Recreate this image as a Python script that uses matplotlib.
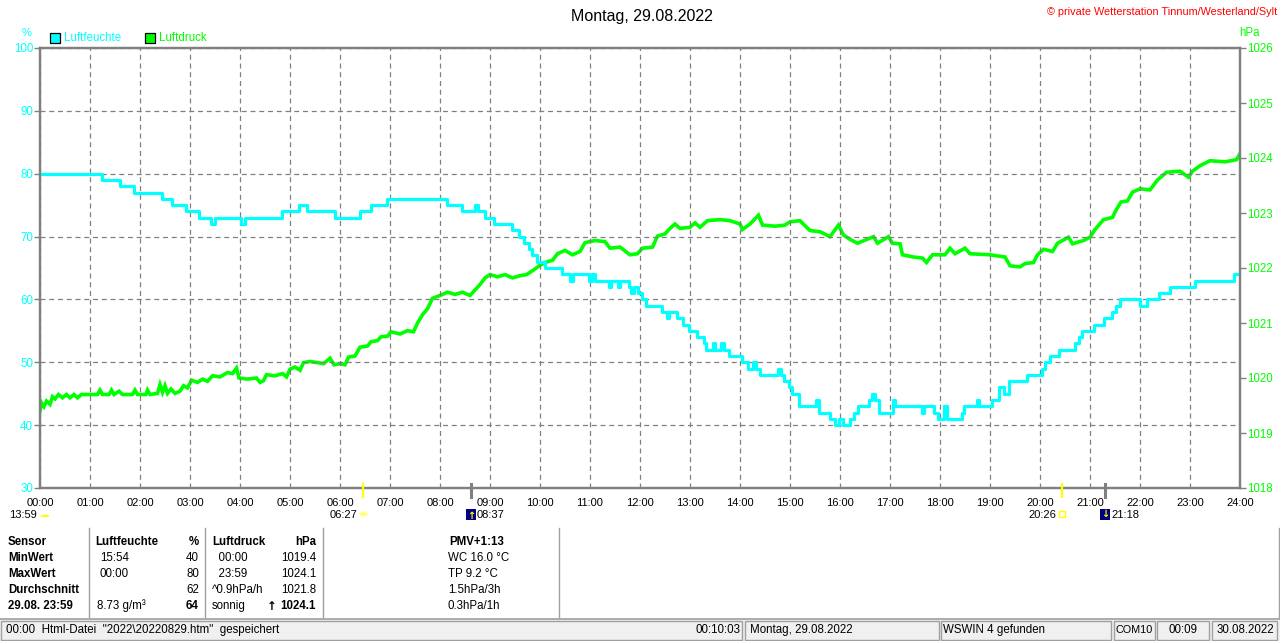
import matplotlib
matplotlib.use("Agg")
import matplotlib.pyplot as plt
import matplotlib.transforms as mtransforms
from matplotlib.patches import Rectangle, Circle, Wedge

# ---- data ----
hours = list(range(25))
hour_labels = [f"{h:02d}:00" for h in hours]

hum_ticks = [30, 40, 50, 60, 70, 80, 90, 100]
pres_ticks = [1018, 1019, 1020, 1021, 1022, 1023, 1024, 1025, 1026]

# humidity (%), steps starting at the given hour
hum_t = [0.00, 1.23, 1.59, 1.87, 2.43, 2.63, 2.92, 3.17, 3.42, 3.50,
         4.02, 4.10, 4.83, 5.17, 5.33, 5.90, 6.39, 6.61, 6.93, 8.13,
         8.43, 8.70, 8.76, 8.90, 9.07, 9.43, 9.57, 9.67, 9.77, 9.83,
         9.93, 10.10, 10.43, 10.60, 10.66, 10.97, 11.03, 11.10, 11.38, 11.42,
         11.55, 11.59, 11.77, 11.82, 11.88, 11.95, 12.03, 12.12, 12.43, 12.53,
         12.58, 12.73, 12.85, 12.97, 13.13, 13.27, 13.32, 13.45, 13.50, 13.62,
         13.67, 13.77, 14.03, 14.15, 14.25, 14.32, 14.40, 14.75, 14.82, 14.87,
         14.97, 15.03, 15.17, 15.52, 15.57, 15.80, 15.90, 15.97, 16.05, 16.20,
         16.28, 16.35, 16.57, 16.64, 16.70, 16.77, 17.05, 17.10, 17.63, 17.68,
         17.87, 17.95, 18.07, 18.13, 18.43, 18.48, 18.73, 18.77, 19.03, 19.17,
         19.27, 19.37, 19.73, 20.03, 20.10, 20.20, 20.37, 20.70, 20.77, 20.83,
         21.07, 21.27, 21.43, 21.52, 21.60, 22.00, 22.13, 22.37, 22.60, 23.10,
         23.87, 24.00]
hum_v = [80, 79, 78, 77, 76, 75, 74, 73, 72, 73,
         72, 73, 74, 75, 74, 73, 74, 75, 76, 75,
         74, 75, 74, 73, 72, 71, 70, 69, 68, 67,
         66, 65, 64, 63, 64, 63, 64, 63, 62, 63,
         62, 63, 62, 61, 62, 61, 60, 59, 58, 57,
         58, 57, 56, 55, 54, 53, 52, 53, 52, 53,
         52, 51, 50, 49, 50, 49, 48, 49, 48, 47,
         46, 45, 43, 44, 42, 41, 40, 41, 40, 41,
         42, 43, 44, 45, 44, 42, 44, 43, 42, 43,
         42, 41, 43, 41, 42, 43, 44, 43, 44, 46,
         45, 47, 48, 49, 50, 51, 52, 53, 54, 55,
         56, 57, 58, 59, 60, 59, 60, 61, 62, 63,
         64, 64]

# air pressure (hPa)
pres_t = [0.00, 0.03, 0.08, 0.13, 0.20, 0.25, 0.30, 0.37, 0.45, 0.53,
          0.60, 0.68, 0.75, 0.83, 1.15, 1.20, 1.25, 1.38, 1.43, 1.48,
          1.58, 1.65, 1.85, 1.90, 1.95, 2.12, 2.15, 2.20, 2.35, 2.40,
          2.45, 2.50, 2.55, 2.62, 2.70, 2.80, 2.87, 2.95, 3.03, 3.15,
          3.25, 3.35, 3.45, 3.60, 3.75, 3.85, 3.93, 3.98, 4.15, 4.33,
          4.40, 4.47, 4.53, 4.70, 4.85, 4.93, 5.00, 5.10, 5.20, 5.27,
          5.40, 5.55, 5.67, 5.80, 5.88, 6.00, 6.10, 6.17, 6.30, 6.40,
          6.55, 6.62, 6.75, 6.82, 6.95, 7.02, 7.20, 7.35, 7.47, 7.55,
          7.65, 7.75, 7.85, 8.00, 8.15, 8.30, 8.45, 8.60, 8.70, 8.80,
          8.90, 9.00, 9.15, 9.30, 9.45, 9.60, 9.73, 9.85, 10.00, 10.10,
          10.25, 10.35, 10.50, 10.65, 10.80, 10.90, 11.10, 11.30, 11.40, 11.60,
          11.80, 11.95, 12.05, 12.25, 12.35, 12.50, 12.60, 12.70, 12.80, 13.00,
          13.10, 13.20, 13.35, 13.60, 13.80, 14.00, 14.05, 14.20, 14.37, 14.45,
          14.70, 14.90, 15.00, 15.20, 15.40, 15.60, 15.80, 15.97, 16.07, 16.20,
          16.35, 16.67, 16.75, 16.97, 17.05, 17.20, 17.25, 17.47, 17.65, 17.73,
          17.85, 18.10, 18.20, 18.30, 18.50, 18.60, 19.00, 19.30, 19.40, 19.60,
          19.70, 19.87, 19.95, 20.07, 20.25, 20.35, 20.57, 20.65, 20.87, 21.00,
          21.10, 21.27, 21.45, 21.52, 21.62, 21.75, 21.85, 22.00, 22.20, 22.35,
          22.53, 22.80, 22.97, 23.05, 23.20, 23.40, 23.70, 23.93, 24.00]
pres_v = [1019.40, 1019.55, 1019.48, 1019.58, 1019.52, 1019.66, 1019.62, 1019.70, 1019.64, 1019.70,
          1019.64, 1019.70, 1019.64, 1019.70, 1019.70, 1019.78, 1019.70, 1019.70, 1019.78, 1019.70,
          1019.76, 1019.70, 1019.70, 1019.78, 1019.70, 1019.70, 1019.78, 1019.70, 1019.72, 1019.88,
          1019.74, 1019.86, 1019.72, 1019.80, 1019.72, 1019.76, 1019.86, 1019.82, 1019.96, 1019.92,
          1019.98, 1019.94, 1020.04, 1020.02, 1020.10, 1020.08, 1020.18, 1020.00, 1019.98, 1020.00,
          1019.92, 1019.95, 1020.06, 1020.04, 1020.08, 1020.02, 1020.16, 1020.20, 1020.14, 1020.28,
          1020.30, 1020.28, 1020.26, 1020.36, 1020.24, 1020.26, 1020.24, 1020.38, 1020.40, 1020.56,
          1020.58, 1020.66, 1020.68, 1020.75, 1020.76, 1020.84, 1020.80, 1020.86, 1020.84, 1021.00,
          1021.15, 1021.26, 1021.45, 1021.50, 1021.56, 1021.52, 1021.56, 1021.50, 1021.60, 1021.70,
          1021.82, 1021.88, 1021.84, 1021.88, 1021.82, 1021.86, 1021.88, 1021.95, 1022.05, 1022.10,
          1022.14, 1022.26, 1022.32, 1022.24, 1022.30, 1022.46, 1022.50, 1022.48, 1022.36, 1022.38,
          1022.24, 1022.26, 1022.36, 1022.38, 1022.58, 1022.62, 1022.72, 1022.80, 1022.72, 1022.74,
          1022.82, 1022.74, 1022.86, 1022.88, 1022.86, 1022.80, 1022.70, 1022.80, 1022.96, 1022.78,
          1022.76, 1022.78, 1022.84, 1022.86, 1022.68, 1022.66, 1022.57, 1022.78, 1022.60, 1022.52,
          1022.45, 1022.57, 1022.45, 1022.57, 1022.45, 1022.44, 1022.24, 1022.20, 1022.18, 1022.10,
          1022.24, 1022.24, 1022.36, 1022.26, 1022.36, 1022.26, 1022.24, 1022.20, 1022.04, 1022.02,
          1022.08, 1022.10, 1022.24, 1022.34, 1022.30, 1022.45, 1022.56, 1022.44, 1022.50, 1022.56,
          1022.70, 1022.88, 1022.92, 1023.05, 1023.20, 1023.22, 1023.38, 1023.44, 1023.42, 1023.60,
          1023.74, 1023.76, 1023.65, 1023.76, 1023.86, 1023.95, 1023.93, 1023.97, 1024.08]

# sunrise / sunset (yellow) and moonrise / moonset (gray) markers
sun_events = [6.45, 20.433]
moon_events = [8.617, 21.30]

CYAN = "#00ffff"
GREEN = "#00ff00"
GRAY = "#808080"
FONT = ["Liberation Sans Narrow", "Liberation Sans", "DejaVu Sans"]
plt.rcParams["font.family"] = FONT

W, H = 1280, 641
fig = plt.figure(figsize=(W / 100, H / 100), dpi=100)


def px(x, y):
    """pixel position (from top-left) -> figure fraction"""
    return x / W, 1 - y / H


def text(x, y, s, size=8.3, **kw):
    kw.setdefault("va", "center")
    fig.text(*px(x, y), s, fontsize=size, **kw)


ax_l, ax_r, ax_t, ax_b = 40, 1240, 48, 488
ax = fig.add_axes([ax_l / W, 1 - ax_b / H, (ax_r - ax_l) / W, (ax_b - ax_t) / H])
ax2 = ax.twinx()
ax.set_zorder(ax2.get_zorder() + 1)
ax.patch.set_visible(False)

ax2.plot(pres_t, pres_v, color=GREEN, lw=2.6, solid_joinstyle="miter")
ax.plot(hum_t, hum_v, color=CYAN, lw=2.3, drawstyle="steps-post")

ax.set_xlim(0, 24)
ax.set_ylim(30, 100)
ax2.set_ylim(1018, 1026)
ax.set_xticks(hours)
ax.set_xticklabels(hour_labels)
ax.set_yticks(hum_ticks)
ax2.set_yticks(pres_ticks)
ax.grid(True, color=GRAY, lw=0.9, ls=(0, (4, 3)))
ax.tick_params(axis="x", length=0, pad=7, labelsize=8.0, colors="black")
ax.tick_params(axis="y", length=4, width=1, color=GRAY, pad=1,
               labelsize=8.3, labelcolor=CYAN)
ax2.tick_params(axis="y", length=4, width=1, color=GRAY, pad=1,
                labelsize=8.3, labelcolor=GREEN)
for a in (ax, ax2):
    for sp in a.spines.values():
        sp.set_color(GRAY)
        sp.set_linewidth(1.6)

# event markers crossing the x axis
trans = mtransforms.blended_transform_factory(ax.transData, ax.transAxes)
for t in sun_events:
    ax.plot([t, t], [0.009, -0.021], color="#ffff00", lw=1.6,
            transform=trans, clip_on=False, zorder=5)
for t in moon_events:
    ax.plot([t, t], [0.009, -0.021], color=GRAY, lw=2.2,
            transform=trans, clip_on=False, zorder=5)

# header texts
text(642, 16, "Montag, 29.08.2022", size=11.5, ha="center")
text(1277, 12, "\u00a9 private Wetterstation Tinnum/Westerland/Sylt", size=7.8,
     ha="right", color="#ff0000")
text(27, 33, "%", size=8, ha="center", color=CYAN)
text(1250, 33, "hPa", size=8.3, ha="center", color=GREEN)
fig.patches.append(Rectangle(px(50, 43), 10 / W, 10 / H, transform=fig.transFigure,
                             facecolor=CYAN, edgecolor="black", lw=0.9))
text(64, 38, "Luftfeuchte", ha="left", color=CYAN)
fig.patches.append(Rectangle(px(145, 43), 10 / W, 10 / H, transform=fig.transFigure,
                             facecolor=GREEN, edgecolor="black", lw=0.9))
text(159, 38, "Luftdruck", ha="left", color=GREEN)

# second row under the time axis: day length, sun and moon times
row2 = 515
text(37, row2, "13:59", size=8.0, ha="right")
fig.patches.append(Wedge(px(45, 517), 4.5 / W, 0, 180, transform=fig.transFigure,
                         facecolor="#ffff00", edgecolor="none"))
text(357, row2, "06:27", size=8.0, ha="right")
fig.patches.append(Circle(px(363.5, 514), 3.2 / W, transform=fig.transFigure,
                          facecolor="#ffff00", edgecolor="#ffffa0", lw=1.5))
fig.patches.append(Rectangle(px(466, 520), 10 / W, 11 / H, transform=fig.transFigure,
                             facecolor="#000080", edgecolor="none"))
text(471, 516, "\u2191", size=7, ha="center", color="#ffff00",
     family="DejaVu Sans", weight="bold")
text(477, row2, "08:37", size=8.0, ha="left")
text(1056, row2, "20:26", size=8.0, ha="right")
fig.patches.append(Rectangle(px(1059, 517), 6 / W, 6 / H, transform=fig.transFigure,
                             facecolor="none", edgecolor="#ffff00", lw=1))
fig.patches.append(Rectangle(px(1100, 520), 10 / W, 11 / H, transform=fig.transFigure,
                             facecolor="#000080", edgecolor="none"))
text(1105, 514, "\u2193", size=7, ha="center", color="#ffff00",
     family="DejaVu Sans", weight="bold")
text(1111, row2, "21:18", size=8.0, ha="left")

# table of values
rows = [542, 558, 574, 590, 606]
sensor_col = ["Sensor", "MinWert", "MaxWert", "Durchschnitt", "29.08. 23:59"]
hum_time_col = ["15:54", "00:00", "", "8.73 g/m\u00b3"]
hum_val_col = ["40", "80", "62", "64"]
pres_time_col = ["  00:00", "  23:59", "^0.9hPa/h", "sonnig"]
pres_val_col = ["1019.4", "1024.1", "1021.8", "1024.1"]
extra_col = ["PMV+1:13", "WC 16.0 \u00b0C", "TP 9.2 \u00b0C", "1.5hPa/3h", "0.3hPa/1h"]

for y, s in zip(rows, sensor_col):
    text(8, y, s, ha="left", weight="bold")
text(95, rows[0], "Luftfeuchte", ha="left", weight="bold")
text(199, rows[0], "%", ha="right", weight="bold")
text(212, rows[0], "Luftdruck", ha="left", weight="bold")
text(316, rows[0], "hPa", ha="right", weight="bold")
for i, y in enumerate(rows[1:]):
    last = i == 3
    text(100 if not last else 97, y, hum_time_col[i], ha="left")
    text(199, y, hum_val_col[i], ha="right", weight="bold" if last else "normal")
    text(212, y, pres_time_col[i], ha="left")
    text(316, y, pres_val_col[i], ha="right", weight="bold" if last else "normal")
text(272, rows[4], "\u2191", size=8.5, ha="center", weight="bold",
     family="DejaVu Sans")
text(477, rows[0], extra_col[0], ha="center", weight="bold")
for y, s in zip(rows[1:], extra_col[1:]):
    text(448, y, s, ha="left")

for x in (89, 205, 323, 559):
    fig.add_artist(plt.Line2D([x / W, x / W], [px(0, 528)[1], px(0, 617)[1]],
                              color="#a0a0a0", lw=1))
fig.add_artist(plt.Line2D([1278.5 / W] * 2, [px(0, 528)[1], px(0, 618)[1]],
                          color="#a0a0a0", lw=1))

# status bar
fig.patches.append(Rectangle(px(0, 641), 1, 23 / H, transform=fig.transFigure,
                             facecolor="#f0f0f0", edgecolor="none"))
fig.add_artist(plt.Line2D([0, 1], [px(0, 618.5)[1]] * 2, color="#a0a0a0", lw=1.2))
panels = [(1, 742), (745, 939), (941, 1111), (1114, 1155), (1157, 1209), (1212, 1277)]
for x0, x1 in panels:
    fig.patches.append(Rectangle(px(x0, 639.5), (x1 - x0) / W, 18.5 / H,
                                 transform=fig.transFigure, facecolor="#f0f0f0",
                                 edgecolor="#a0a0a0", lw=1))
status_y = 630
text(6, status_y, '00:00  Html-Datei  "2022\\20220829.htm"  gespeichert', ha="left")
text(740, status_y, "00:10:03", ha="right")
text(750, status_y, "Montag, 29.08.2022", ha="left")
text(943, status_y, "WSWIN 4 gefunden", ha="left")
text(1134.5, status_y, "COM10", size=7.8, ha="center")
text(1183, status_y, "00:09", ha="center")
text(1245, status_y, "30.08.2022", ha="center")

fig.savefig("out.png", dpi=100)
